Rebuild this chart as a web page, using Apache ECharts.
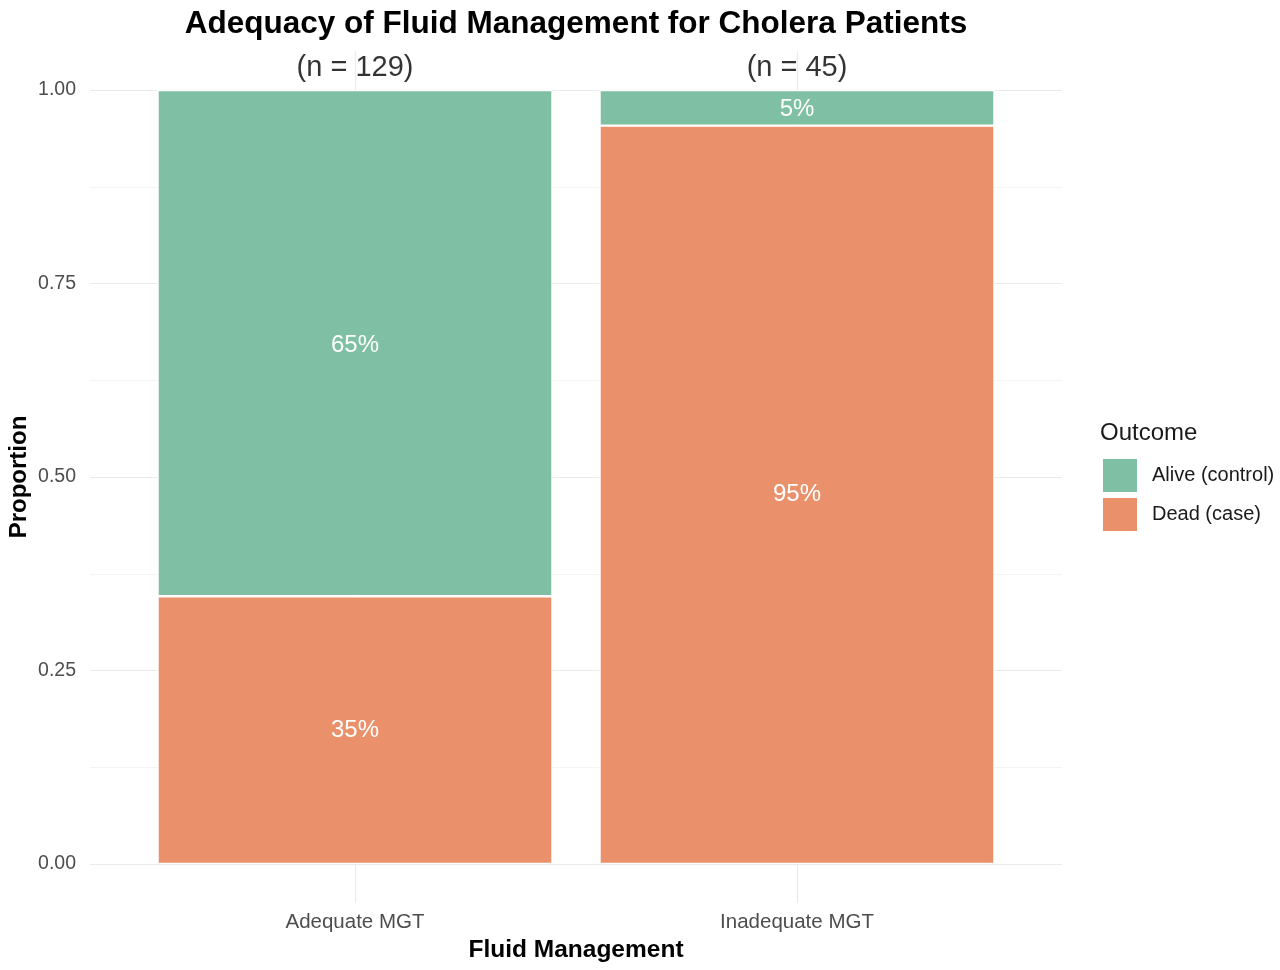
<!DOCTYPE html>
<html>
<head>
<meta charset="utf-8">
<script src="https://cdn.jsdelivr.net/npm/echarts@6/dist/echarts.min.js"></script>
<style>
html,body{margin:0;padding:0;background:#fff;}
#main{width:1280px;height:970px;}
</style>
</head>
<body>
<div id="main"></div>
<script>
// ---- data ----
var categories = ['Adequate MGT', 'Inadequate MGT'];
var groupN = [129, 45];
var aliveProp = [0.654, 0.046];
var deadProp = [0.346, 0.954];
var yTicks = [0, 0.25, 0.5, 0.75, 1];

var FONT = "'Liberation Sans', Arial, Helvetica, sans-serif";
var GREEN = '#7FBFA3';
var ORANGE = '#EA916B';

function pct(p) { return Math.round(p.value * 100) + '%'; }

var chart = echarts.init(document.getElementById('main'), null, {renderer: 'canvas'});
var option = {
  backgroundColor: '#ffffff',
  animation: false,
  textStyle: {fontFamily: FONT},
  title: [
    {text: 'Adequacy of Fluid Management for Cholera Patients', left: 576, top: 8, textAlign: 'center', padding: 0,
     textStyle: {fontFamily: FONT, fontSize: 31.5, fontWeight: 'bold', color: '#000'}},
    {text: 'Fluid Management', left: 576, top: 938, textAlign: 'center', padding: 0,
     textStyle: {fontFamily: FONT, fontSize: 24.5, fontWeight: 'bold', color: '#000'}},
    {text: 'Outcome', left: 1100, top: 421, padding: 0,
     textStyle: {fontFamily: FONT, fontSize: 24, fontWeight: 'normal', color: '#1a1a1a'}}
  ],
  legend: {
    orient: 'vertical', left: 1103, top: 459, itemWidth: 34, itemHeight: 33, itemGap: 6,
    padding: 0, icon: 'rect',
    data: ['Alive (control)', 'Dead (case)'],
    itemStyle: {borderWidth: 0},
    textStyle: {fontFamily: FONT, fontSize: 20, color: '#1a1a1a', padding: [0, 0, 0, 10]}
  },
  grid: [
    {left: 355, width: 442, top: 51.3, height: 851.4, containLabel: false, outerBoundsMode: 'none'},
    {left: 90, width: 972, top: 90, height: 774, containLabel: false, outerBoundsMode: 'none'}
  ],
  xAxis: [
    {type: 'category', gridIndex: 0, data: categories, boundaryGap: false,
     axisLine: {show: false}, axisTick: {show: false},
     axisLabel: {color: '#4d4d4d', fontSize: 20.5, fontFamily: FONT, margin: 9, interval: 0},
     splitLine: {show: true, lineStyle: {color: '#ebebeb', width: 1.2}}},
    {type: 'value', gridIndex: 1, min: 0, max: 1, show: false}
  ],
  yAxis: [
    {type: 'value', gridIndex: 0, min: -0.05, max: 1.05, show: false},
    {type: 'value', gridIndex: 1, min: 0, max: 1, interval: 0.25,
     name: 'Proportion', nameLocation: 'middle', nameRotate: 90, nameGap: 59, nameMoveOverlap: false,
     nameTextStyle: {fontFamily: FONT, fontSize: 24, fontWeight: 'bold', color: '#000'},
     axisLine: {show: false}, axisTick: {show: false},
     axisLabel: {color: '#4d4d4d', fontSize: 19.5, fontFamily: FONT, margin: 14,
       formatter: function (v) { return yTicks.indexOf(v) >= 0 ? v.toFixed(2) : ''; }},
     splitLine: {show: true, lineStyle: {color: '#ebebeb', width: 1.2}},
     minorTick: {show: false, splitNumber: 2},
     minorSplitLine: {show: true, lineStyle: {color: '#f4f4f4', width: 1}}}
  ],
  series: [
    {name: 'Dead (case)', type: 'bar', xAxisIndex: 0, yAxisIndex: 0, stack: 'p',
     barWidth: 395, clip: false, data: deadProp,
     itemStyle: {color: ORANGE, borderColor: '#ffffff', borderWidth: 1.2},
     label: {show: true, position: 'inside', formatter: pct, color: '#ffffff', fontSize: 24, fontFamily: FONT}},
    {name: 'Alive (control)', type: 'bar', xAxisIndex: 0, yAxisIndex: 0, stack: 'p',
     barWidth: 395, clip: false, data: aliveProp,
     itemStyle: {color: GREEN, borderColor: '#ffffff', borderWidth: 1.2},
     label: {show: true, position: 'inside', formatter: pct, color: '#ffffff', fontSize: 24, fontFamily: FONT,
       offset: [0, 2]}},
    {name: 'n', type: 'scatter', xAxisIndex: 0, yAxisIndex: 0, symbolSize: 0, clip: false, silent: true,
     data: groupN.map(function (n, i) { return {value: [i, 1.028], n: n}; }),
     label: {show: true, position: 'inside', color: '#000000', fontSize: 29, fontFamily: FONT,
       formatter: function (p) { return '(n = ' + p.data.n + ')'; }}}
  ]
};
chart.setOption(option);
</script>
</body>
</html>
